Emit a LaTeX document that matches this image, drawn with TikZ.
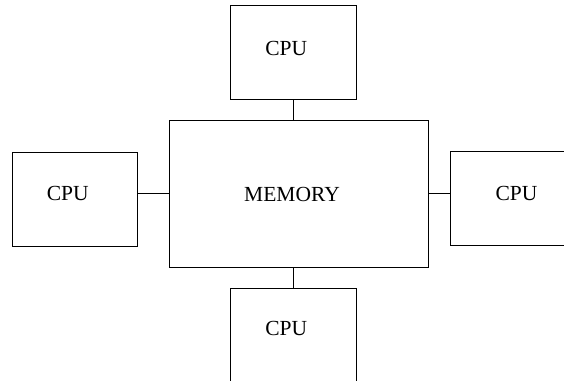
\documentclass[tikz,border=0pt]{standalone}
\usepackage{fontspec}
\setmainfont{Liberation Serif}
\usetikzlibrary{positioning}
\begin{document}
\begin{tikzpicture}[
  x=1pt, y=-1pt, font=\fontsize{21.5}{25}\selectfont,
  unit/.style={draw, line width=0.8pt, minimum width=125.5pt, minimum height=94pt, inner sep=0pt},
  link/.style={line width=0.8pt}
]
\useasboundingbox (0,0) rectangle (564,380);
\clip (0,0) rectangle (564,380);
% shared memory in the middle
\node[unit, minimum width=259pt, minimum height=147pt, label={[xshift=-7pt]center:MEMORY}] (mem) at (299,194) {};

% processors on the four sides
\node[unit, label={[xshift=-7pt,yshift=4.5pt]center:CPU}] (cpuN) at (293.3,52.5) {};
\node[unit, label={[xshift=-7pt,yshift=6pt]center:CPU}] (cpuW) at (74.8,199.2) {};
\node[unit, label={[xshift=3pt,yshift=5pt]center:CPU}] (cpuE) at (513.5,198.8) {};
\node[unit, label={[xshift=-7pt,yshift=7pt]center:CPU}] (cpuS) at (293.3,335) {};

% bus links to memory
\draw[link] (cpuN.south) -- (cpuN.south |- mem.north);
\draw[link] ([yshift=6pt]cpuW.east) -- ([yshift=6pt]cpuW.east -| mem.west);
\draw[link] ([yshift=5.5pt]cpuE.west) -- ([yshift=5.5pt]cpuE.west -| mem.east);
\draw[link] (cpuS.north) -- (cpuS.north |- mem.south);
\end{tikzpicture}
\end{document}
